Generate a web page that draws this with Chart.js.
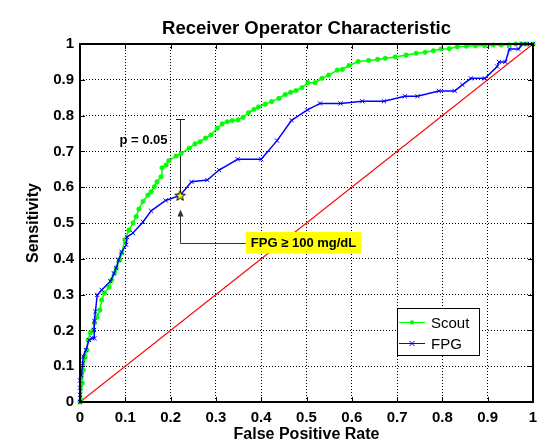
<!DOCTYPE html>
<html>
<head>
<meta charset="utf-8">
<script src="https://cdn.jsdelivr.net/npm/chart.js@4/dist/chart.umd.min.js"></script>
<style>
  html, body { margin: 0; padding: 0; background: #fff; }
</style>
</head>
<body>
<canvas id="roc" width="540" height="447"></canvas>
<script>
// ── Data ────────────────────────────────────────────────────────────────────
const scoutFpr = [0, 0.002, 0.005, 0.007, 0.011, 0.015, 0.018, 0.023, 0.029, 0.032, 0.037, 0.044, 0.048, 0.054,
    0.064, 0.070, 0.076, 0.080, 0.088, 0.092, 0.099, 0.108, 0.117, 0.124, 0.130, 0.139, 0.150, 0.157, 0.164, 0.170,
    0.179, 0.181, 0.190, 0.196, 0.212, 0.223, 0.241, 0.254, 0.265, 0.277, 0.289, 0.303, 0.314, 0.325, 0.336, 0.349,
    0.360, 0.372, 0.384, 0.394, 0.409, 0.423, 0.439, 0.453, 0.465, 0.477, 0.490, 0.503, 0.519, 0.534, 0.549, 0.568,
    0.579, 0.594, 0.614, 0.637, 0.657, 0.674, 0.696, 0.720, 0.742, 0.762, 0.780, 0.797, 0.815, 0.833, 0.853, 0.873,
    0.893, 0.912, 0.930, 0.947, 0.962, 0.974, 0.987, 1.0];
const scoutTpr = [0, 0.006, 0.053, 0.089, 0.126, 0.145, 0.173, 0.193, 0.201, 0.221, 0.237, 0.257, 0.285, 0.304,
    0.321, 0.341, 0.360, 0.374, 0.397, 0.416, 0.453, 0.480, 0.500, 0.518, 0.539, 0.560, 0.578, 0.587, 0.601, 0.615,
    0.629, 0.654, 0.662, 0.674, 0.687, 0.694, 0.709, 0.721, 0.727, 0.737, 0.746, 0.765, 0.777, 0.783, 0.786, 0.788,
    0.795, 0.808, 0.817, 0.824, 0.832, 0.839, 0.848, 0.859, 0.865, 0.870, 0.878, 0.892, 0.892, 0.904, 0.913, 0.927,
    0.929, 0.940, 0.951, 0.954, 0.957, 0.960, 0.964, 0.969, 0.974, 0.977, 0.981, 0.986, 0.987, 0.992, 0.994, 0.995,
    0.995, 0.997, 0.997, 0.998, 1.0, 1.0, 1.0, 1.0];

const fpgFpr = [0, 0, 0, 0, 0.003, 0.006, 0.007, 0.013, 0.020, 0.027, 0.032, 0.031, 0.032, 0.034, 0.038, 0.048,
    0.067, 0.075, 0.080, 0.085, 0.092, 0.102, 0.104, 0.117, 0.139, 0.157, 0.189, 0.221, 0.246, 0.281, 0.307, 0.348,
    0.400, 0.435, 0.467, 0.502, 0.530, 0.575, 0.623, 0.671, 0.717, 0.745, 0.792, 0.827, 0.844, 0.863, 0.894, 0.921,
    0.925, 0.939, 0.948, 0.968, 0.977, 0.987, 1.0];
const fpgTpr = [0, 0.02, 0.04, 0.06, 0.075, 0.108, 0.127, 0.145, 0.173, 0.178, 0.178, 0.201, 0.226, 0.252, 0.299,
    0.313, 0.337, 0.359, 0.374, 0.397, 0.419, 0.439, 0.461, 0.472, 0.503, 0.534, 0.563, 0.577, 0.615, 0.620, 0.648,
    0.678, 0.678, 0.730, 0.787, 0.816, 0.834, 0.834, 0.840, 0.840, 0.854, 0.854, 0.869, 0.869, 0.886, 0.904, 0.904,
    0.937, 0.950, 0.950, 0.986, 0.986, 1.0, 1.0, 1.0];

const chanceFpr = [0, 1];
const chanceTpr = [0, 1];

// FPG >= 100 mg/dL operating point and its p = 0.05 bar
const cutoffFpr = [0.221];
const cutoffTpr = [0.577];
const cutoffUpper = 0.79;

const axisTicks = [0, 0.1, 0.2, 0.3, 0.4, 0.5, 0.6, 0.7, 0.8, 0.9, 1];
const seriesNames = ["Scout", "FPG"];
const pLabel = "p = 0.05";
const cutoffLabel = "FPG \u2265 100 mg/dL";

const FONT = "'Liberation Sans', Arial, Helvetica, sans-serif";
const SCOUT_COLOR = "#00ff00";
const FPG_COLOR = "#0000ff";

const toPoints = (xs, ys) => xs.map((x, i) => ({ x, y: ys[i] }));

// ── Yellow pentagram marker ─────────────────────────────────────────────────
function starImage(size) {
    const c = document.createElement("canvas");
    c.width = c.height = size;
    const g = c.getContext("2d");
    const cx = size / 2, cy = size / 2 + 0.5;
    const R = size / 2 - 1, r = R * 0.4;
    g.beginPath();
    for (let i = 0; i < 10; i++) {
        const a = -Math.PI / 2 + (i * Math.PI) / 5;
        const rad = i % 2 ? r : R;
        g.lineTo(cx + rad * Math.cos(a), cy + rad * Math.sin(a));
    }
    g.closePath();
    g.fillStyle = "#ffff00";
    g.fill();
    g.strokeStyle = "#000";
    g.lineWidth = 1;
    g.stroke();
    return c;
}

// ── Plugins: box + inner ticks, annotations, legend ────────────────────────
const framePlugin = {
    id: "frame",
    afterDatasetsDraw(chart) {
        const { ctx, chartArea: a, scales: { x, y } } = chart;
        const len = 5;
        ctx.save();
        ctx.strokeStyle = "#000";
        ctx.lineWidth = 1;
        ctx.beginPath();
        axisTicks.forEach((t) => {
            const xp = Math.round(x.getPixelForValue(t)) + 0.5;
            ctx.moveTo(xp, a.bottom); ctx.lineTo(xp, a.bottom - len);
            ctx.moveTo(xp, a.top); ctx.lineTo(xp, a.top + len);
            const yp = Math.round(y.getPixelForValue(t)) + 0.5;
            ctx.moveTo(a.left, yp); ctx.lineTo(a.left + len, yp);
            ctx.moveTo(a.right, yp); ctx.lineTo(a.right - len, yp);
        });
        ctx.stroke();
        ctx.lineWidth = 2;
        ctx.strokeRect(a.left, a.top, a.right - a.left, a.bottom - a.top);
        ctx.restore();
    },
};

const errorBarPlugin = {
    id: "errorBar",
    beforeDatasetsDraw(chart) {
        const { ctx, scales: { x, y } } = chart;
        const xp = Math.round(x.getPixelForValue(cutoffFpr[0])) + 0.5;
        const yTop = y.getPixelForValue(cutoffUpper);
        const yBot = y.getPixelForValue(cutoffTpr[0]);
        ctx.save();
        ctx.strokeStyle = "#222";
        ctx.lineWidth = 1;
        ctx.beginPath();
        ctx.moveTo(xp, yBot); ctx.lineTo(xp, yTop);
        ctx.moveTo(xp - 4.5, Math.round(yTop) + 0.5); ctx.lineTo(xp + 4.5, Math.round(yTop) + 0.5);
        ctx.stroke();
        ctx.fillStyle = "#000";
        ctx.font = `bold 13px ${FONT}`;
        ctx.textAlign = "center";
        ctx.textBaseline = "middle";
        ctx.fillText(pLabel, x.getPixelForValue(0.140), y.getPixelForValue(0.732));
        ctx.restore();
    },
};

const calloutPlugin = {
    id: "callout",
    afterDatasetsDraw(chart) {
        const { ctx, scales: { x, y } } = chart;
        const xp = Math.round(x.getPixelForValue(cutoffFpr[0])) + 0.5;
        const tip = y.getPixelForValue(0.538);
        const elbow = Math.round(y.getPixelForValue(0.445)) + 0.5;
        const boxL = x.getPixelForValue(0.366), boxR = x.getPixelForValue(0.621);
        const boxT = y.getPixelForValue(0.475), boxB = y.getPixelForValue(0.415);
        ctx.save();
        ctx.strokeStyle = "#333";
        ctx.fillStyle = "#333";
        ctx.lineWidth = 1;
        ctx.beginPath();
        ctx.moveTo(boxL, elbow); ctx.lineTo(xp, elbow); ctx.lineTo(xp, tip + 5);
        ctx.stroke();
        ctx.beginPath();
        ctx.moveTo(xp, tip); ctx.lineTo(xp - 3, tip + 7); ctx.lineTo(xp + 3, tip + 7);
        ctx.closePath();
        ctx.fill();
        ctx.fillStyle = "#ffff00";
        ctx.fillRect(boxL, boxT, boxR - boxL, boxB - boxT);
        ctx.fillStyle = "#000";
        ctx.font = `bold 13px ${FONT}`;
        ctx.textAlign = "center";
        ctx.textBaseline = "middle";
        ctx.fillText(cutoffLabel, (boxL + boxR) / 2, (boxT + boxB) / 2 + 0.5);
        ctx.restore();
    },
};

const boxLegendPlugin = {
    id: "boxLegend",
    afterDraw(chart) {
        const { ctx, chartArea: a } = chart;
        const left = Math.round(a.left + (a.right - a.left) * 0.70);
        const top = Math.round(a.top + (a.bottom - a.top) * 0.737);
        const bw = 82, bh = 47;
        const colors = [SCOUT_COLOR, FPG_COLOR];
        ctx.save();
        ctx.fillStyle = "#fff";
        ctx.fillRect(left, top, bw, bh);
        ctx.strokeStyle = "#000";
        ctx.lineWidth = 1;
        ctx.strokeRect(left + 0.5, top + 0.5, bw, bh);
        seriesNames.forEach((name, i) => {
            const yy = top + 14.5 + i * 21;
            const x0 = left + 2, x1 = left + 28, xm = (x0 + x1) / 2;
            ctx.strokeStyle = colors[i];
            ctx.fillStyle = colors[i];
            ctx.lineWidth = 1;
            ctx.beginPath();
            ctx.moveTo(x0, yy); ctx.lineTo(x1, yy);
            ctx.stroke();
            ctx.beginPath();
            if (i === 0) {
                ctx.arc(xm, yy, 2.2, 0, Math.PI * 2);
                ctx.fill();
            } else {
                ctx.moveTo(xm - 2.5, yy - 2.5); ctx.lineTo(xm + 2.5, yy + 2.5);
                ctx.moveTo(xm - 2.5, yy + 2.5); ctx.lineTo(xm + 2.5, yy - 2.5);
                ctx.stroke();
            }
            ctx.fillStyle = "#000";
            ctx.font = `15px ${FONT}`;
            ctx.textAlign = "left";
            ctx.textBaseline = "middle";
            ctx.fillText(name, left + 34, yy + 1);
        });
        ctx.restore();
    },
};

// ── Chart ───────────────────────────────────────────────────────────────────
const axisCommon = {
    type: "linear",
    min: 0,
    max: 1,
    afterBuildTicks: (s) => { s.ticks = axisTicks.map((v) => ({ value: v })); },
    grid: { color: "#000", lineWidth: 1, drawTicks: false },
    border: { display: false, dash: [1, 2] },
};

new Chart(document.getElementById("roc"), {
    type: "scatter",
    data: {
        datasets: [
            {
                label: "FPG cutoff",
                data: toPoints(cutoffFpr, cutoffTpr),
                pointStyle: starImage(13),
                pointRadius: 6,
                showLine: false,
                clip: false,
            },
            {
                label: seriesNames[1],
                data: toPoints(fpgFpr, fpgTpr),
                showLine: true,
                borderColor: FPG_COLOR,
                borderWidth: 1.5,
                pointStyle: "crossRot",
                pointRadius: 3,
                pointBorderWidth: 1,
                pointBorderColor: FPG_COLOR,
                pointBackgroundColor: FPG_COLOR,
                clip: 6,
            },
            {
                label: seriesNames[0],
                data: toPoints(scoutFpr, scoutTpr),
                showLine: true,
                borderColor: SCOUT_COLOR,
                borderWidth: 1.5,
                pointStyle: "circle",
                pointRadius: 2.3,
                pointBorderWidth: 0.5,
                pointBorderColor: SCOUT_COLOR,
                pointBackgroundColor: SCOUT_COLOR,
                clip: 6,
            },
            {
                label: "chance",
                data: toPoints(chanceFpr, chanceTpr),
                showLine: true,
                borderColor: "#ff0000",
                borderWidth: 1.2,
                pointRadius: 0,
            },
        ],
    },
    options: {
        responsive: false,
        animation: false,
        events: [],
        layout: { padding: { left: 0, right: 4, top: 0, bottom: 0 } },
        plugins: {
            legend: { display: false },
            tooltip: { enabled: false },
            title: {
                display: true,
                text: "Receiver Operator Characteristic",
                color: "#000",
                fullSize: false,
                font: { family: FONT, size: 18.5, weight: "bold" },
                padding: { top: 18, bottom: 3.8 },
            },
        },
        scales: {
            x: {
                ...axisCommon,
                afterFit: (s) => { s.height = 45; s.paddingLeft = 0; s.paddingRight = 0; },
                ticks: {
                    color: "#000",
                    padding: 7,
                    maxRotation: 0,
                    autoSkip: false,
                    font: { family: FONT, size: 15, weight: "bold" },
                    callback: (v) => String(v),
                },
                title: {
                    display: true,
                    text: "False Positive Rate",
                    color: "#000",
                    font: { family: FONT, size: 16, weight: "bold" },
                    padding: { top: 0, bottom: 2.4 },
                },
            },
            y: {
                ...axisCommon,
                afterFit: (s) => { s.width = 80; s.paddingTop = 0; s.paddingBottom = 0; },
                ticks: {
                    color: "#000",
                    padding: 6,
                    font: { family: FONT, size: 15, weight: "bold" },
                    callback: (v) => String(v),
                },
                title: {
                    display: true,
                    text: "Sensitivity",
                    color: "#000",
                    font: { family: FONT, size: 16, weight: "bold" },
                    padding: { top: 24, bottom: 0 },
                },
            },
        },
    },
    plugins: [errorBarPlugin, framePlugin, calloutPlugin, boxLegendPlugin],
});
</script>
</body>
</html>
